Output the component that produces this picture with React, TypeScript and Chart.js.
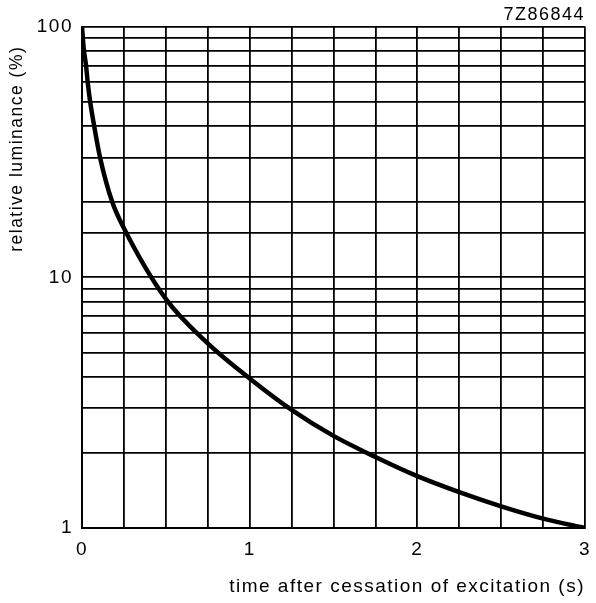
import React, { useEffect, useRef } from "react";
import { Chart, registerables } from "chart.js";

Chart.register(...registerables);

const timeValues = [0, 0.01, 0.024, 0.034, 0.049, 0.073, 0.108, 0.18, 0.25, 0.5, 0.75, 1, 1.25, 1.5, 1.75, 2, 2.25, 2.5, 2.75, 3];
const luminanceValues = [100, 82, 70, 60, 50, 40, 30, 20, 15.7, 8.2, 5.45, 3.95, 2.96, 2.33, 1.92, 1.61, 1.39, 1.22, 1.09, 1.0];
const xTickLabels = [0, 1, 2, 3];
const yTickLabels = [1, 10, 100];
const codeLabel = "7Z86844";
const xTitle = "time after cessation of excitation (s)";
const yTitle = "relative luminance (%)";

const FONT = "'Liberation Sans', Arial, Helvetica, sans-serif";
const LETTER_SPACING = "1.5px";

const spacingPlugin = {
  id: "letterSpacing",
  beforeLayout(chart: any) {
    chart.ctx.letterSpacing = LETTER_SPACING;
  },
  beforeDraw(chart: any) {
    chart.ctx.letterSpacing = LETTER_SPACING;
  },
};

export default function App() {
  const ref = useRef<HTMLCanvasElement | null>(null);

  useEffect(() => {
    if (!ref.current) return;
    const chart = new Chart(ref.current, {
      type: "line",
      data: {
        datasets: [
          {
            data: timeValues.map((t, i) => ({ x: t, y: luminanceValues[i] })),
            borderColor: "#000",
            borderWidth: 4.5,
            pointRadius: 0,
            cubicInterpolationMode: "monotone",
            fill: false,
          },
        ],
      },
      plugins: [spacingPlugin],
      options: {
        animation: false,
        responsive: false,
        layout: { padding: { left: 0, right: 11, top: 0, bottom: 0 } },
        plugins: {
          legend: { display: false },
          tooltip: { enabled: false },
          title: {
            display: true,
            text: codeLabel,
            align: "end",
            color: "#000",
            font: { family: FONT, size: 18, weight: "normal", lineHeight: 1.2 },
            padding: { top: 4, bottom: 1 },
          },
        },
        scales: {
          x: {
            type: "linear",
            min: 0,
            max: 3,
            afterFit: (s: any) => {
              s.height = 75;
              s.paddingLeft = 0;
              s.paddingRight = 0;
            },
            ticks: {
              stepSize: 0.25,
              autoSkip: false,
              maxRotation: 0,
              padding: 10,
              color: "#000",
              font: { family: FONT, size: 19 },
              callback: (v: any) => (xTickLabels.includes(Number(v)) ? String(v) : ""),
            },
            grid: { color: "#000", lineWidth: 1.8, drawTicks: false },
            border: { color: "#000", width: 2 },
            title: {
              display: true,
              text: xTitle,
              align: "end",
              color: "#000",
              font: { family: FONT, size: 19 },
              padding: { top: 0, bottom: 5 },
            },
          },
          y: {
            type: "logarithmic",
            min: 1,
            max: 100,
            afterFit: (s: any) => {
              s.width = 82;
            },
            ticks: {
              autoSkip: false,
              padding: 9,
              color: "#000",
              font: { family: FONT, size: 19 },
              callback: (v: any) => (yTickLabels.includes(Number(v)) ? String(v) : ""),
            },
            grid: { color: "#000", lineWidth: 1.8, drawTicks: false },
            border: { color: "#000", width: 2 },
            title: {
              display: true,
              text: yTitle + "   ",
              align: "end",
              color: "#000",
              font: { family: FONT, size: 17.5 },
              padding: { top: 7, bottom: 0 },
            },
          },
        },
      },
    });
    return () => chart.destroy();
  }, []);

  return (
    <div style={{ position: "absolute", left: 0, top: 0, width: 596, height: 603, background: "#fff" }}>
      <canvas ref={ref} width={596} height={603} style={{ display: "block" }} />
    </div>
  );
}
